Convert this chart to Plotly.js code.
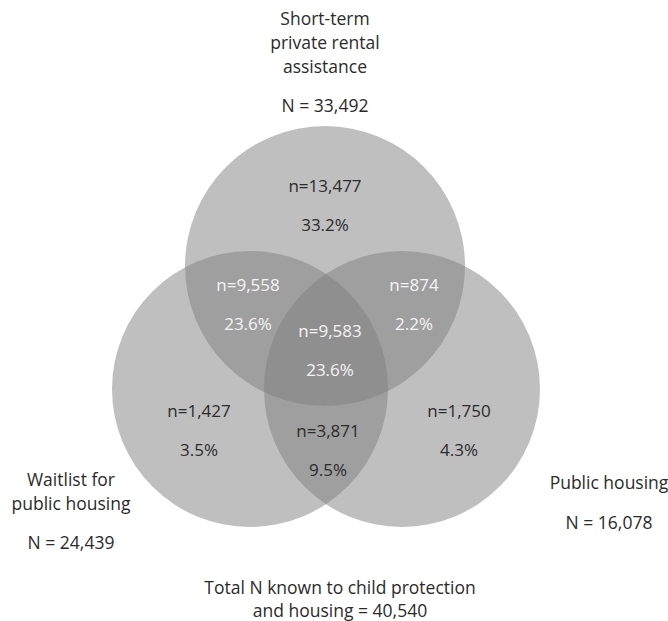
<!DOCTYPE html>
<html>
<head>
<meta charset="utf-8">
<script src="https://cdn.plot.ly/plotly-3.0.1.min.js"></script>
<style>html,body{margin:0;padding:0;background:#fff;}#chart{width:668px;height:621px;}</style>
</head>
<body>
<div id="chart"></div>
<script>
// ---- data ----
const regionNames = ['Short-term only', 'Waitlist & Short-term', 'Short-term & Public', 'All three', 'Waitlist only', 'Waitlist & Public', 'Public only'];
const regionCounts = [13477, 9558, 874, 9583, 1427, 3871, 1750];
const regionPercents = [33.2, 23.6, 2.2, 23.6, 3.5, 9.5, 4.3];
const setNames = ['Short-term<br>private rental<br>assistance', 'Waitlist for<br>public housing', 'Public housing'];
const setTotals = [33492, 24439, 16078];
const totalLabel = 'Total N known to child protection<br>and housing = ';
const grandTotal = 40540;

// ---- layout (pixel geometry) ----
const circles = [ {cx: 325, cy: 266, r: 140}, {cx: 250, cy: 389, r: 138}, {cx: 402, cy: 389, r: 138} ];
const regionPos = [[325,188],[248,287],[414,287],[330,333],[199,413],[328,433],[459,413]];
const pctGap = 39;
const regionDark = [true, false, false, false, true, true, true];
const setPos = [[325,21,108],[71,482,545],[609,485,525]];
const lineGap = 24;
const totalPos = [340, 590];

const fmt = v => v.toLocaleString('en-US');
const FONT = '"Open Sans", Lato, sans-serif';
const SIZE = 17;
const SET_SIZE = 17.5;
const DARK = '#2b2b2b', LIGHT = '#f4f4f4';

const traces = [];
// region counts and percents
const rx = [], ry = [], rt = [], rc = [];
regionCounts.forEach((c, i) => {
  rx.push(regionPos[i][0]); ry.push(regionPos[i][1]); rt.push('n=' + fmt(c)); rc.push(regionDark[i] ? DARK : LIGHT);
  rx.push(regionPos[i][0]); ry.push(regionPos[i][1] + pctGap); rt.push(regionPercents[i].toFixed(1) + '%'); rc.push(regionDark[i] ? DARK : LIGHT);
});
traces.push({type: 'scatter', mode: 'text', x: rx, y: ry, text: rt, textposition: 'middle center',
  textfont: {family: FONT, size: SIZE, color: rc}, hoverinfo: 'skip', showlegend: false});

// set labels
const sx = [], sy = [], st = [];
setNames.forEach((name, i) => {
  const lines = name.split('<br>');
  lines.forEach((ln, j) => { sx.push(setPos[i][0]); sy.push(setPos[i][1] + j * lineGap); st.push(ln); });
  sx.push(setPos[i][0]); sy.push(setPos[i][2]); st.push('N = ' + fmt(setTotals[i]));
});
const tl = (totalLabel + fmt(grandTotal)).split('<br>');
tl.forEach((ln, j) => { sx.push(totalPos[0]); sy.push(totalPos[1] + j * 23); st.push(ln); });
traces.push({type: 'scatter', mode: 'text', x: sx, y: sy, text: st, textposition: 'middle center',
  textfont: {family: FONT, size: SET_SIZE, color: DARK}, hoverinfo: 'skip', showlegend: false});

const shapes = circles.map(c => ({type: 'circle', xref: 'x', yref: 'y', layer: 'below',
  x0: c.cx - c.r, x1: c.cx + c.r, y0: c.cy - c.r, y1: c.cy + c.r,
  fillcolor: 'rgba(127,127,127,0.5)', line: {width: 0}}));

const layout = {
  width: 668, height: 621, margin: {l: 0, r: 0, t: 0, b: 0},
  paper_bgcolor: '#fff', plot_bgcolor: '#fff',
  xaxis: {range: [0, 668], visible: false, fixedrange: true},
  yaxis: {range: [621, 0], visible: false, fixedrange: true},
  shapes: shapes, showlegend: false
};
Plotly.newPlot('chart', traces, layout, {displayModeBar: false, staticPlot: true});
</script>
</body>
</html>
